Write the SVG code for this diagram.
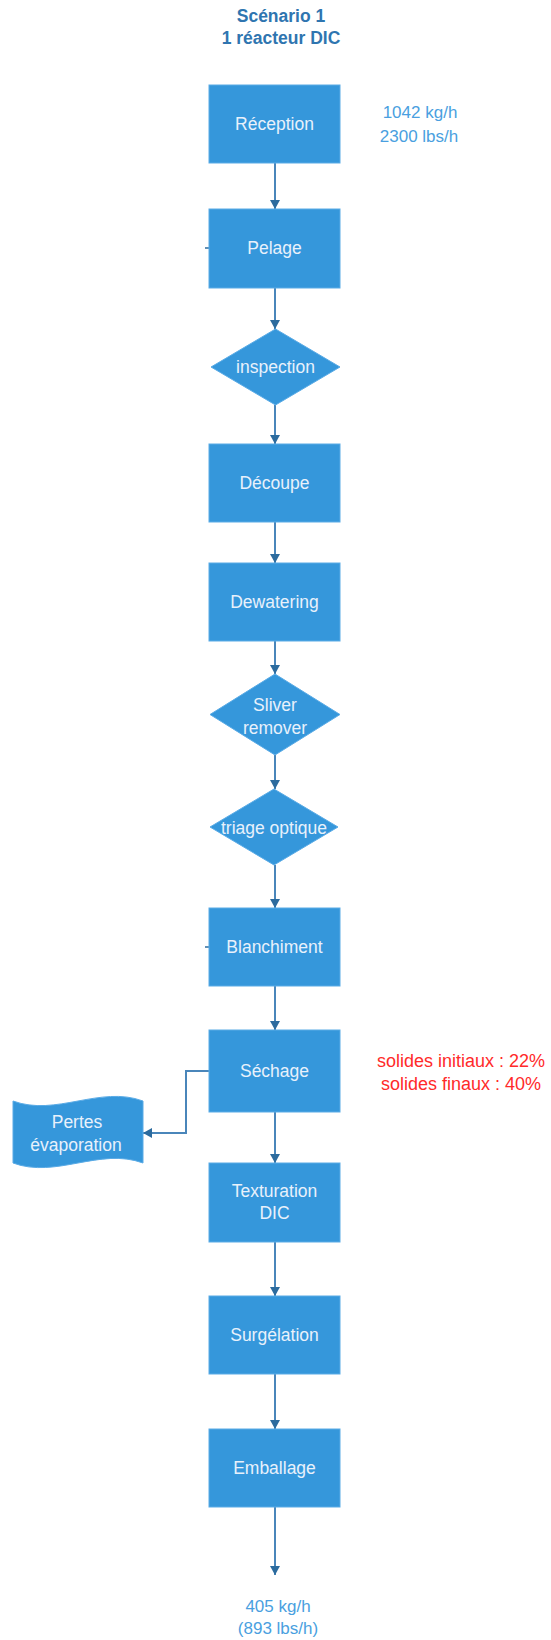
<svg xmlns="http://www.w3.org/2000/svg" width="551" height="1640" viewBox="0 0 551 1640">
<style>
.n{fill:#3597DB;stroke:#5AABE6;stroke-width:1}
.t{font-family:"Liberation Sans",Arial,sans-serif;font-size:17.5px;fill:#E8F1FB;text-anchor:middle}
.title{font-family:"Liberation Sans",Arial,sans-serif;font-size:17.5px;font-weight:bold;fill:#2F75B0;text-anchor:middle}
.flow{font-family:"Liberation Sans",Arial,sans-serif;font-size:17px;fill:#4A9FE0;text-anchor:middle}
.red{font-family:"Liberation Sans",Arial,sans-serif;font-size:18px;fill:#FF2A2A;text-anchor:middle}
.c{fill:none;stroke:#4A86BA;stroke-width:2}
</style>
<defs>
<marker id="ah" markerUnits="userSpaceOnUse" markerWidth="10" markerHeight="10" refX="9" refY="5" orient="auto">
<path d="M0,0 L9,5 L0,10 z" fill="#2C6B9E"/>
</marker>
</defs>
<g id="title">
<text class="title" x="281" y="22">Scénario 1</text>
<text class="title" x="281" y="44">1 réacteur DIC</text>
</g>
<g id="connectors">
<line class="c" x1="275" y1="163" x2="275" y2="209" marker-end="url(#ah)"/>
<line class="c" x1="275" y1="288" x2="275" y2="329" marker-end="url(#ah)"/>
<line class="c" x1="275" y1="405" x2="275" y2="444" marker-end="url(#ah)"/>
<line class="c" x1="275" y1="522" x2="275" y2="563" marker-end="url(#ah)"/>
<line class="c" x1="275" y1="641" x2="275" y2="674" marker-end="url(#ah)"/>
<line class="c" x1="275" y1="755" x2="275" y2="789" marker-end="url(#ah)"/>
<line class="c" x1="275" y1="865" x2="275" y2="908" marker-end="url(#ah)"/>
<line class="c" x1="275" y1="986" x2="275" y2="1030" marker-end="url(#ah)"/>
<line class="c" x1="275" y1="1112" x2="275" y2="1163" marker-end="url(#ah)"/>
<line class="c" x1="275" y1="1242" x2="275" y2="1296" marker-end="url(#ah)"/>
<line class="c" x1="275" y1="1374" x2="275" y2="1429" marker-end="url(#ah)"/>
<line class="c" x1="275" y1="1507" x2="275" y2="1575" marker-end="url(#ah)"/>
<polyline class="c" points="209,1071 186,1071 186,1133 143,1133" marker-end="url(#ah)"/>
<line x1="205" y1="248" x2="209" y2="248" stroke="#2C6B9E" stroke-width="1.5"/>
<line x1="205" y1="947" x2="209" y2="947" stroke="#2C6B9E" stroke-width="1.5"/>
</g>
<g id="reception">
<rect class="n" x="209" y="85" width="131" height="78"/>
<text class="t" x="274.5" y="130">Réception</text>
</g>
<g id="flow-in">
<text class="flow" x="420" y="118">1042 kg/h</text>
<text class="flow" x="419" y="142">2300 lbs/h</text>
</g>
<g id="pelage">
<rect class="n" x="209" y="209" width="131" height="79"/>
<text class="t" x="274.5" y="254">Pelage</text>
</g>
<g id="inspection">
<polygon class="n" points="275.5,329 340,367 275.5,405 211,367"/>
<text class="t" x="275.5" y="373">inspection</text>
</g>
<g id="decoupe">
<rect class="n" x="209" y="444" width="131" height="78"/>
<text class="t" x="274.5" y="489">Découpe</text>
</g>
<g id="dewatering">
<rect class="n" x="209" y="563" width="131" height="78"/>
<text class="t" x="274.5" y="608">Dewatering</text>
</g>
<g id="sliver">
<polygon class="n" points="275,674 340,714.5 275,755 210,714.5"/>
<text class="t" x="275" y="711">Sliver</text>
<text class="t" x="275" y="734">remover</text>
</g>
<g id="triage">
<polygon class="n" points="274,789 338,827 274,865 210,827"/>
<text class="t" x="274" y="834">triage optique</text>
</g>
<g id="blanchiment">
<rect class="n" x="209" y="908" width="131" height="78"/>
<text class="t" x="274.5" y="953">Blanchiment</text>
</g>
<g id="sechage">
<rect class="n" x="209" y="1030" width="131" height="82"/>
<text class="t" x="274.5" y="1077">Séchage</text>
</g>
<g id="solides">
<text class="red" x="461" y="1067">solides initiaux : 22%</text>
<text class="red" x="461" y="1090">solides finaux : 40%</text>
</g>
<g id="pertes">
<path class="n" d="M13,1101 C56,1117 100,1085 143,1101 L143,1163 C100,1147 56,1179 13,1163 Z"/>
<text class="t" x="77" y="1128">Pertes</text>
<text class="t" x="76" y="1151">évaporation</text>
</g>
<g id="texturation">
<rect class="n" x="209" y="1163" width="131" height="79"/>
<text class="t" x="274.5" y="1197">Texturation</text>
<text class="t" x="274.5" y="1219">DIC</text>
</g>
<g id="surgelation">
<rect class="n" x="209" y="1296" width="131" height="78"/>
<text class="t" x="274.5" y="1341">Surgélation</text>
</g>
<g id="emballage">
<rect class="n" x="209" y="1429" width="131" height="78"/>
<text class="t" x="274.5" y="1474">Emballage</text>
</g>
<g id="flow-out">
<text class="flow" x="278" y="1612">405 kg/h</text>
<text class="flow" x="278" y="1634">(893 lbs/h)</text>
</g>
</svg>
